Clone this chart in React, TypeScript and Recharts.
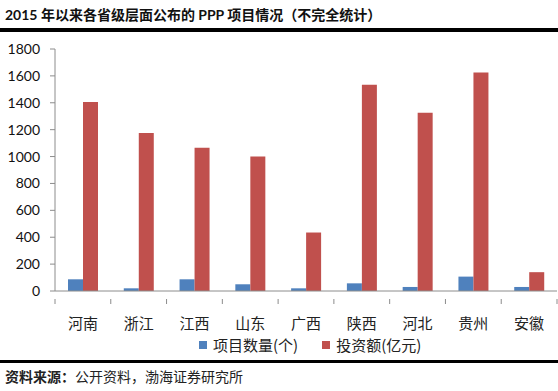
import { BarChart, Bar, XAxis, YAxis } from 'recharts'

const provinces = ['河南', '浙江', '江西', '山东', '广西', '陕西', '河北', '贵州', '安徽']
const projectCount = [87, 20, 87, 50, 20, 57, 30, 107, 30]
const investment = [1405, 1175, 1065, 1000, 435, 1535, 1325, 1625, 140]
const yTicks = [0, 200, 400, 600, 800, 1000, 1200, 1400, 1600, 1800]

const W = 558
const H = 391
const PLOT_LEFT = 55
const PLOT_RIGHT = 557
const BAND = (PLOT_RIGHT - PLOT_LEFT) / provinces.length

const BLUE = '#4F81BD'
const RED = '#C0504D'
const AXIS = '#8c8c8c'
const CJK = '"Noto Sans CJK SC", sans-serif'

const data = provinces.map((p, i) => ({
  name: p,
  count: projectCount[i],
  invest: investment[i],
}))

function CategoryTick(props: any) {
  const { x, y, payload, index } = props
  const left = x - BAND / 2
  return (
    <g>
      <line x1={left} y1={y} x2={left} y2={y + 5} stroke={AXIS} />
      {index === provinces.length - 1 && (
        <line x1={left + BAND} y1={y} x2={left + BAND} y2={y + 5} stroke={AXIS} />
      )}
      <text
        x={x}
        y={y + 30}
        textAnchor="middle"
        fontSize={15}
        fontFamily={CJK}
        fill="#222"
      >
        {payload.value}
      </text>
    </g>
  )
}

export default function App() {
  return (
    <div
      style={{
        position: 'absolute',
        left: 0,
        top: 0,
        width: W,
        height: H,
        background: '#fff',
        overflow: 'hidden',
      }}
    >
      <div
        style={{
          position: 'absolute',
          left: 5,
          top: 4,
          fontSize: 14,
          fontWeight: 'bold',
          fontFamily: `Lato, ${CJK}`,
          color: '#111',
          whiteSpace: 'nowrap',
        }}
      >
        2015 年以来各省级层面公布的 PPP 项目情况（不完全统计）
      </div>
      <div
        style={{ position: 'absolute', left: 0, top: 28, width: W, height: 4, background: '#000' }}
      />
      <BarChart
        width={W}
        height={H}
        data={data}
        margin={{ top: 49, right: W - PLOT_RIGHT, left: 10, bottom: 60 }}
        barGap={0}
        barSize={15}
      >
        <XAxis
          dataKey="name"
          height={40}
          stroke={AXIS}
          tickLine={false}
          tick={<CategoryTick />}
          interval={0}
        />
        <YAxis
          width={PLOT_LEFT - 10}
          domain={[0, 1800]}
          ticks={yTicks}
          stroke={AXIS}
          tickSize={5}
          tickMargin={10}
          tick={{ fill: '#111', fontSize: 14, fontFamily: 'Lato' }}
          interval={0}
        />
        <Bar dataKey="count" fill={BLUE} isAnimationActive={false} />
        <Bar dataKey="invest" fill={RED} isAnimationActive={false} />
      </BarChart>
      <div
        style={{
          position: 'absolute',
          left: 199,
          top: 334,
          display: 'flex',
          alignItems: 'center',
          fontSize: 15,
          fontFamily: CJK,
          color: '#222',
          whiteSpace: 'nowrap',
        }}
      >
        <span style={{ width: 8, height: 8, background: BLUE, marginRight: 6 }} />
        <span>项目数量(个)</span>
        <span style={{ width: 8, height: 8, background: RED, marginLeft: 24, marginRight: 6 }} />
        <span>投资额(亿元)</span>
      </div>
      <div
        style={{ position: 'absolute', left: 0, top: 360, width: W, height: 3, background: '#000' }}
      />
      <div
        style={{
          position: 'absolute',
          left: 5,
          top: 366,
          fontSize: 14,
          fontFamily: CJK,
          color: '#222',
          whiteSpace: 'nowrap',
        }}
      >
        <span style={{ fontWeight: 'bold' }}>资料来源：</span>公开资料，渤海证券研究所
      </div>
    </div>
  )
}
